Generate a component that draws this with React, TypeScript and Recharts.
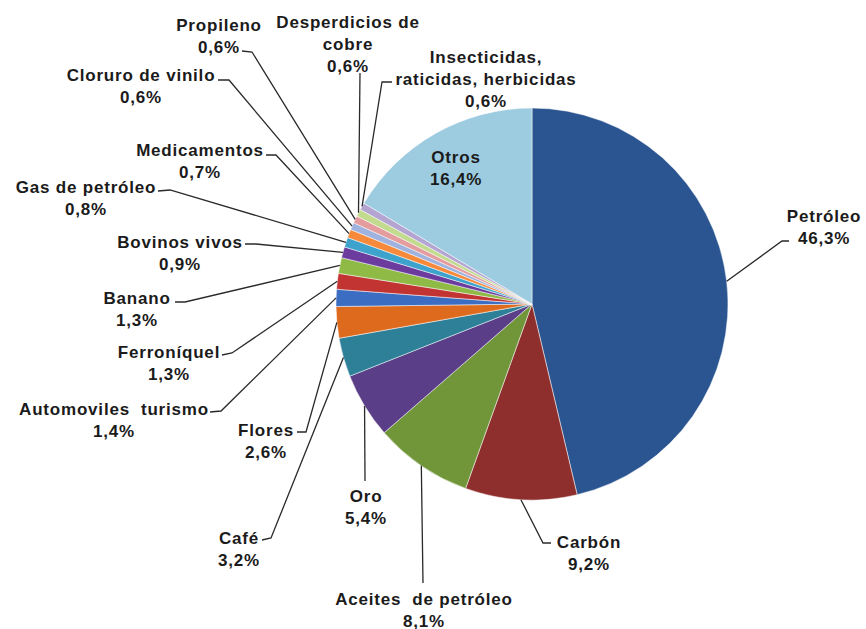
import React from 'react';
import { PieChart, Pie, Cell } from 'recharts';

const products = [
  'Petróleo',
  'Carbón',
  'Aceites de petróleo',
  'Oro',
  'Café',
  'Flores',
  'Automoviles  turismo',
  'Ferroníquel',
  'Banano',
  'Bovinos vivos',
  'Gas de petróleo',
  'Medicamentos',
  'Cloruro de vinilo',
  'Propileno',
  'Desperdicios de cobre',
  'Insecticidas, raticidas, herbicidas',
  'Otros',
];

const shares = [46.3, 9.2, 8.1, 5.4, 3.2, 2.6, 1.4, 1.3, 1.3, 0.9, 0.8, 0.7, 0.6, 0.6, 0.6, 0.6, 16.4];

const shareLabels = [
  '46,3%', '9,2%', '8,1%', '5,4%', '3,2%', '2,6%', '1,4%', '1,3%', '1,3%',
  '0,9%', '0,8%', '0,7%', '0,6%', '0,6%', '0,6%', '0,6%', '16,4%',
];

const colors = [
  '#2B5591', '#8E2F2D', '#71963A', '#5A3E87', '#2E8099', '#DE6A1E', '#3B6DC2', '#C23432',
  '#8FBA45', '#6B3C9E', '#3DA2CC', '#F68A3A', '#9FB3DE', '#E59C9E', '#C3DB8E', '#B3A4D1', '#9DCCE0',
];

const data = products.map((name, i) => ({ name, value: shares[i], text: shareLabels[i] }));

// label placement: text centre, first line y, wrapped lines, line start and knee
type Placement = { x: number; y: number; lines: string[]; start?: [number, number]; knee?: [number, number] };

const placements: Placement[] = [
  { x: 824, y: 216, lines: ['Petróleo'], start: [789, 241], knee: [782, 241] },
  { x: 589, y: 542, lines: ['Carbón'], start: [551, 543], knee: [543, 543] },
  { x: 424, y: 599, lines: ['Aceites  de petróleo'], start: [423, 583], knee: [423, 583] },
  { x: 366, y: 496, lines: ['Oro'], start: [365, 481], knee: [365, 481] },
  { x: 239, y: 538, lines: ['Café'], start: [262, 540], knee: [271, 538] },
  { x: 266, y: 430, lines: ['Flores'], start: [297, 432], knee: [306, 432] },
  { x: 114, y: 409, lines: ['Automoviles  turismo'], start: [210, 412], knee: [221, 411] },
  { x: 169, y: 352, lines: ['Ferroníquel'], start: [222, 355], knee: [232, 353] },
  { x: 137, y: 298, lines: ['Banano'], start: [175, 302], knee: [185, 302] },
  { x: 180, y: 242, lines: ['Bovinos vivos'], start: [245, 244], knee: [256, 244] },
  { x: 86, y: 187, lines: ['Gas de petróleo'], start: [158, 191], knee: [170, 190] },
  { x: 200, y: 150, lines: ['Medicamentos'], start: [266, 155], knee: [276, 155] },
  { x: 141, y: 75, lines: ['Cloruro de vinilo'], start: [218, 80], knee: [229, 80] },
  { x: 219, y: 25, lines: ['Propileno'], start: [242, 51], knee: [252, 52] },
  { x: 348, y: 22, lines: ['Desperdicios de', 'cobre'], start: [360, 73], knee: [360, 73] },
  { x: 486, y: 57, lines: ['Insecticidas,', 'raticidas, herbicidas'], start: [392, 82], knee: [382, 82] },
  { x: 456, y: 157, lines: ['Otros'] },
];

const RAD = Math.PI / 180;
const LINE_H = 22;

const renderLabel = (props: any) => {
  const { cx, cy, midAngle, outerRadius, index } = props;
  const p = placements[index];
  const rows = [...p.lines, data[index].text];
  const ex = cx + outerRadius * Math.cos(-midAngle * RAD);
  const ey = cy + outerRadius * Math.sin(-midAngle * RAD);
  return (
    <g key={`lbl-${index}`}>
      {p.start && p.knee && (
        <polyline
          points={`${p.start[0]},${p.start[1]} ${p.knee[0]},${p.knee[1]} ${ex},${ey}`}
          fill="none"
          stroke="#2a2a2a"
          strokeWidth={1.3}
        />
      )}
      {rows.map((t, j) => (
        <text
          key={j}
          x={p.x}
          y={p.y + j * LINE_H}
          textAnchor="middle"
          dominantBaseline="central"
          fontFamily="'Liberation Sans', Arial, sans-serif"
          fontWeight="bold"
          fontSize={17}
          letterSpacing={0.8}
          fill="#1b1b1b"
          style={{ whiteSpace: 'pre' }}
        >
          {t}
        </text>
      ))}
    </g>
  );
};

export default function App() {
  return (
    <div style={{ position: 'absolute', left: 0, top: 0, width: 866, height: 629, background: '#fff' }}>
      <PieChart width={866} height={629} margin={{ top: 0, right: 0, bottom: 0, left: 0 }}>
        <Pie
          data={data}
          dataKey="value"
          nameKey="name"
          cx={532}
          cy={304}
          outerRadius={196}
          startAngle={90}
          endAngle={-270}
          stroke="#ffffff"
          strokeWidth={0.5}
          label={renderLabel}
          labelLine={false}
          isAnimationActive={false}
        >
          {data.map((d, i) => (
            <Cell key={d.name} fill={colors[i]} />
          ))}
        </Pie>
      </PieChart>
    </div>
  );
}
